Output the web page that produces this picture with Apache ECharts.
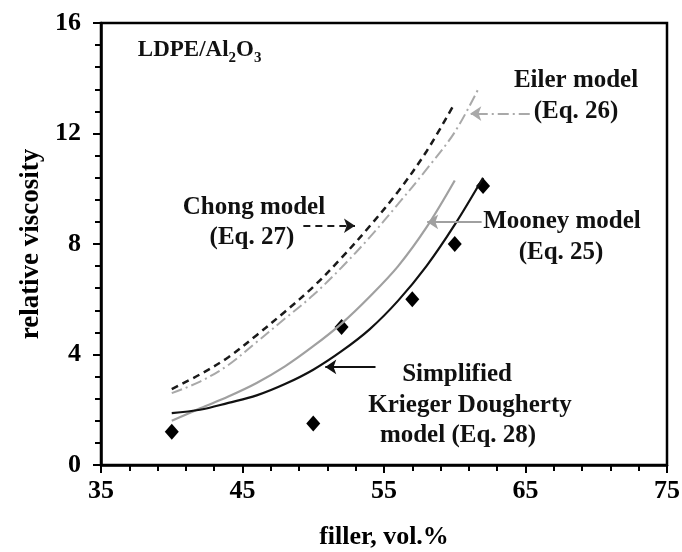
<!DOCTYPE html>
<html>
<head>
<meta charset="utf-8">
<script src="https://cdn.jsdelivr.net/npm/echarts@6/dist/echarts.min.js"></script>
<style>
  html, body { margin: 0; padding: 0; background: #fff; }
  #chart { width: 682px; height: 552px; }
</style>
</head>
<body>
<div id="chart"></div>
<script>
// Measured relative viscosity of LDPE/Al2O3 vs filler content
const fillerMeasured = [40, 50, 52, 57, 60, 62];
const viscMeasured = [1.2, 1.5, 5.0, 6.0, 8.0, 10.1];

// Model curves: [filler vol.%, relative viscosity]
const krieger = [[40, 1.88], [42, 2.0], [44, 2.25], [46, 2.52], [48, 2.93], [50, 3.45], [52, 4.12], [54, 4.92], [56, 5.95], [58, 7.2], [60, 8.7], [62, 10.4]];
const mooney = [[40, 1.6], [42, 2.05], [44, 2.48], [46, 2.97], [48, 3.57], [50, 4.3], [52, 5.12], [54, 6.1], [56, 7.2], [58, 8.6], [60, 10.3]];
const chong = [[40, 2.75], [42, 3.28], [44, 3.9], [46, 4.7], [48, 5.55], [50, 6.45], [52, 7.5], [54, 8.65], [56, 9.9], [58, 11.35], [60, 13.1]];
const eiler = [[40, 2.6], [42, 3.02], [44, 3.62], [46, 4.45], [48, 5.3], [50, 6.15], [52, 7.15], [54, 8.25], [56, 9.45], [58, 10.7], [60, 12.05], [61.7, 13.65]];

// Axis ticks
const xTicks = { min: 35, max: 75, step: 10 };
const yTicks = { min: 0, max: 16, step: 4 };

// Callout arrows, in data coordinates: [from, to]
const chongArrow = [[49.3, 8.66], [52.95, 8.66]];
const eilerArrow = [[65.3, 12.72], [61.1, 12.72]];
const mooneyArrow = [[61.9, 8.8], [58.05, 8.8]];
const kriegerArrow = [[54.4, 3.55], [50.85, 3.55]];

// Callout texts, anchored at their centre in data coordinates
const notes = [
  { text: 'Eiler model', at: [68.57, 13.91] },
  { text: '(Eq. 26)', at: [68.57, 12.79] },
  { text: 'Chong model', at: [45.81, 9.31] },
  { text: '(Eq. 27)', at: [45.67, 8.22] },
  { text: 'Mooney model', at: [67.58, 8.80] },
  { text: '(Eq. 25)', at: [67.51, 7.68] },
  { text: 'Simplified', at: [60.16, 3.26] },
  { text: 'Krieger Dougherty', at: [61.08, 2.17] },
  { text: 'model (Eq. 28)', at: [60.23, 1.05] }
];
const titleAt = [37.6, 14.95];

const FONT = 'Liberation Serif';

const chart = echarts.init(document.getElementById('chart'), null, { renderer: 'canvas' });

function curve(name, data, color, width, type, arrow) {
  return {
    name: name, type: 'line', data: data, smooth: 0.35, showSymbol: false, silent: true,
    lineStyle: { color: color, width: width, type: type },
    markLine: {
      silent: true,
      symbol: ['none', 'arrow'],
      symbolSize: 11,
      label: { show: false },
      emphasis: { disabled: true },
      lineStyle: { color: color, type: type, width: 2 },
      itemStyle: { color: color },
      data: [[{ coord: arrow[0], symbol: 'none' }, { coord: arrow[1], symbol: 'arrow', symbolSize: 11 }]]
    }
  };
}

function axisCommon() {
  return {
    axisLine: { show: true, onZero: false, lineStyle: { color: '#000', width: 2.5 } },
    axisTick: { show: true, inside: false, length: 8, lineStyle: { color: '#000', width: 2 } },
    minorTick: { show: true, splitNumber: 5, length: 6, lineStyle: { color: '#000', width: 2 } },
    splitLine: { show: false },
    axisLabel: { color: '#000', fontFamily: FONT, fontWeight: 'bold', fontSize: 26 },
    nameTextStyle: { color: '#000', fontFamily: FONT, fontWeight: 'bold', fontSize: 26 }
  };
}

const xAxis = Object.assign(axisCommon(), {
  type: 'value', min: xTicks.min, max: xTicks.max, interval: xTicks.step,
  name: 'filler, vol.%', nameLocation: 'middle', nameGap: 59
});
xAxis.axisLabel.margin = 13;

const yAxis = Object.assign(axisCommon(), {
  type: 'value', min: yTicks.min, max: yTicks.max, interval: yTicks.step,
  name: 'relative viscosity', nameLocation: 'middle', nameGap: 54
});
yAxis.axisLabel.margin = 20;
yAxis.nameTextStyle.fontSize = 27;

chart.setOption({
  animation: false,
  backgroundColor: '#fff',
  grid: {
    left: 101, right: 15, top: 23, bottom: 87, outerBoundsMode: 'none', containLabel: false,
    show: true, borderColor: '#000', borderWidth: 2.5, backgroundColor: 'transparent'
  },
  xAxis: xAxis,
  yAxis: yAxis,
  series: [
    curve('Chong', chong, '#1a1a1a', 2.5, [7, 5], chongArrow),
    curve('Eiler', eiler, '#a9a9a9', 2, [11, 4, 2, 4], eilerArrow),
    curve('Mooney', mooney, '#a0a0a0', 2.2, 'solid', mooneyArrow),
    curve('Krieger', krieger, '#111', 2.2, 'solid', kriegerArrow),
    {
      name: 'measured', type: 'scatter', silent: true,
      data: fillerMeasured.map((x, i) => [x, viscMeasured[i]]),
      symbol: 'diamond', symbolSize: [14, 16],
      itemStyle: { color: '#000', opacity: 1 }
    }
  ]
});

// Callout and sample texts placed through the axis scales
const textStyleBase = { fill: '#111', fontFamily: FONT, fontWeight: 'bold', fontSize: 25 };
const graphics = notes.map(n => {
  const p = chart.convertToPixel({ gridIndex: 0 }, n.at);
  return {
    type: 'text', x: p[0], y: p[1], silent: true,
    style: Object.assign({ text: n.text, align: 'center', verticalAlign: 'middle' }, textStyleBase)
  };
});
const tp = chart.convertToPixel({ gridIndex: 0 }, titleAt);
graphics.push({
  type: 'text', x: tp[0], y: tp[1], silent: true,
  style: {
    text: '{a|LDPE/Al}{s|2}{a|O}{s|3}',
    align: 'left', verticalAlign: 'middle',
    rich: {
      a: { fill: '#111', fontFamily: FONT, fontWeight: 'bold', fontSize: 23, lineHeight: 26, verticalAlign: 'top' },
      s: { fill: '#111', fontFamily: FONT, fontWeight: 'bold', fontSize: 15, lineHeight: 26, padding: [12, 0, 0, 0], verticalAlign: 'top' }
    }
  }
});
chart.setOption({ graphic: graphics });
</script>
</body>
</html>
